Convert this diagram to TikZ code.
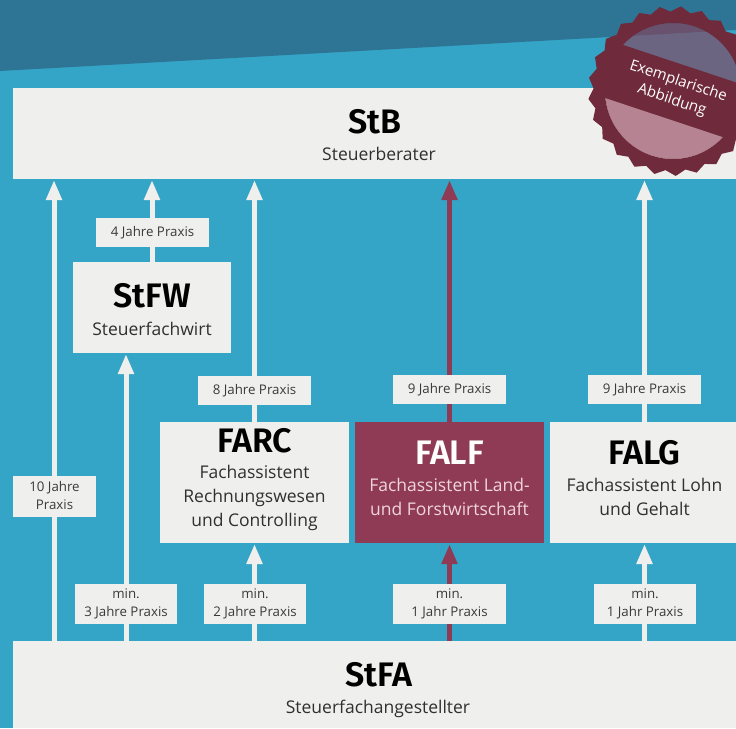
\documentclass[tikz,border=0pt]{standalone}
\usepackage{fontspec}
\setmainfont{Open Sans}
\newfontfamily\headfont{Fira Sans SemiBold}
\usetikzlibrary{arrows.meta}
\definecolor{bgblue}{HTML}{35A5C7}
\definecolor{darkblue}{HTML}{2E7595}
\definecolor{boxgrey}{HTML}{EFEFEE}
\definecolor{berry}{HTML}{8F3B55}
\definecolor{sealred}{HTML}{6F2A3B}
\definecolor{labeltext}{HTML}{3A3A3A}
\definecolor{subtext}{HTML}{303030}
\definecolor{pinktext}{HTML}{F0D5DC}
\newcommand{\tagdown}[2][-1pt]{\raisebox{#1}{\begin{tabular}{@{}c@{}}#2\end{tabular}}}
\tikzset{
  box/.style={fill=boxgrey,inner sep=0pt,outer sep=0pt},
  hotbox/.style={fill=berry,inner sep=0pt,outer sep=0pt},
  head/.style={font=\headfont\fontsize{34}{34}\selectfont,text=black,inner sep=0pt},
  sub/.style={font=\fontsize{17.5}{24}\selectfont,text=subtext,inner sep=0pt,align=center},
  tag/.style={fill=boxgrey,inner sep=0pt,outer sep=0pt,font=\fontsize{13.3}{18}\selectfont,text=labeltext,align=center},
  flow/.style={draw=boxgrey,line width=5pt,-{Triangle[width=15pt,length=20pt]},shorten >=1pt},
  hotflow/.style={flow,draw=berry},
}
\begin{document}
\begin{tikzpicture}[x=1pt,y=-1pt]
\useasboundingbox (0,0) rectangle (736,728);
\clip (0,0) rectangle (736,728);
\fill[bgblue] (0,0) rectangle (736,728);
\fill[darkblue] (0,0) -- (736,0) -- (736,30) -- (0,71) -- cycle;
% main boxes
\node[box,minimum width=723pt,minimum height=91pt] (stb) at (374.5,133.5) {};
\node[box,minimum width=158pt,minimum height=91pt] (stfw) at (152,307.5) {};
\node[box,minimum width=189pt,minimum height=121pt] (farc) at (254.5,482.5) {};
\node[hotbox,minimum width=189pt,minimum height=121pt] (falf) at (449.5,482.5) {};
\node[box,minimum width=189pt,minimum height=121pt] (falg) at (644.5,482.5) {};
\node[box,minimum width=723pt,minimum height=87pt] (stfa) at (374.5,684.5) {};
% connectors
\draw[flow] ([xshift=-320.5pt]stfa.north) -- ([xshift=-320.5pt]stb.south);
\draw[flow] ([xshift=-248.5pt]stfa.north) -- ([xshift=-26pt]stfw.south);
\draw[flow] (stfw.north) -- (stfw.north |- stb.south);
\draw[flow] (farc.north) -- (farc.north |- stb.south);
\draw[hotflow] (falf.north) -- (falf.north |- stb.south);
\draw[flow] (falg.north) -- (falg.north |- stb.south);
\draw[flow] (farc.south |- stfa.north) -- (farc.south);
\draw[hotflow] (falf.south |- stfa.north) -- (falf.south);
\draw[flow] (falg.south |- stfa.north) -- (falg.south);
% box texts
\node[head] (stbt) at (375,122) {StB};
\node[sub] (stbs) at (379,154) {Steuerberater};
\node[head] (stfwt) at (152,296) {StFW};
\node[sub] (stfws) at (152,329) {Steuerfachwirt};
\node[head] (farct) at (254.5,441) {FARC};
\node[sub] (farcs) at (254.5,498) {Fachassistent\\Rechnungswesen\\und Controlling};
\node[head,text=white] (falft) at (449.5,453) {FALF};
\node[sub,text=pinktext] (falfs) at (449.5,497) {Fachassistent Land-\\und Forstwirtschaft};
\node[head] (falgt) at (644.5,453) {FALG};
\node[sub] (falgs) at (644.5,497) {Fachassistent Lohn\\und Gehalt};
\node[head] (stfat) at (379,675) {StFA};
\node[sub] (stfas) at (378,709) {Steuerfachangestellter};
% tags
\node[tag,minimum width=113pt,minimum height=29pt] (t4) at (152.5,232.5) {\tagdown[-2.5pt]{4 Jahre Praxis}};
\node[tag,minimum width=113pt,minimum height=29pt] (t8) at (254.5,390.5) {\tagdown[-2.5pt]{8 Jahre Praxis}};
\node[tag,minimum width=113pt,minimum height=29pt] (t9a) at (449.5,389.5) {\tagdown[-2.5pt]{9 Jahre Praxis}};
\node[tag,minimum width=113pt,minimum height=29pt] (t9b) at (644.5,389.5) {\tagdown[-2.5pt]{9 Jahre Praxis}};
\node[tag,minimum width=83pt,minimum height=41pt] (t10) at (54.5,496.5) {\tagdown{10 Jahre\\Praxis}};
\node[tag,minimum width=102pt,minimum height=40pt] (t3) at (126,604) {\tagdown{min.\\3 Jahre Praxis}};
\node[tag,minimum width=102pt,minimum height=40pt] (t2) at (255,604) {\tagdown{min.\\2 Jahre Praxis}};
\node[tag,minimum width=113pt,minimum height=40pt] (t1a) at (449.5,604) {\tagdown{min.\\1 Jahr Praxis}};
\node[tag,minimum width=102pt,minimum height=40pt] (t1b) at (645,604) {\tagdown{min.\\1 Jahr Praxis}};
% seal
\begin{scope}[shift={(673,91)}]
\fill[berry,opacity=.6] (0,0) circle[radius=68];
\fill[sealred,even odd rule]
  (-84.6:85)
  \foreach \i in {0,...,24} { -- ({-84.6+\i*14.4+7.2}:79.5) -- ({-84.6+(\i+1)*14.4}:85) } -- cycle
  (-137.3:68) arc[start angle=-137.3,end angle=-5.9,radius=68] -- cycle
  (42.7:68) arc[start angle=42.7,end angle=174.1,radius=68] -- cycle;
\node[rotate=-18.4,text=white,align=center,inner sep=0pt,font=\fontsize{15}{20}\selectfont] (seal) at (2,0) {Exemplarische\\Abbildung};
\end{scope}
\end{tikzpicture}
\end{document}
